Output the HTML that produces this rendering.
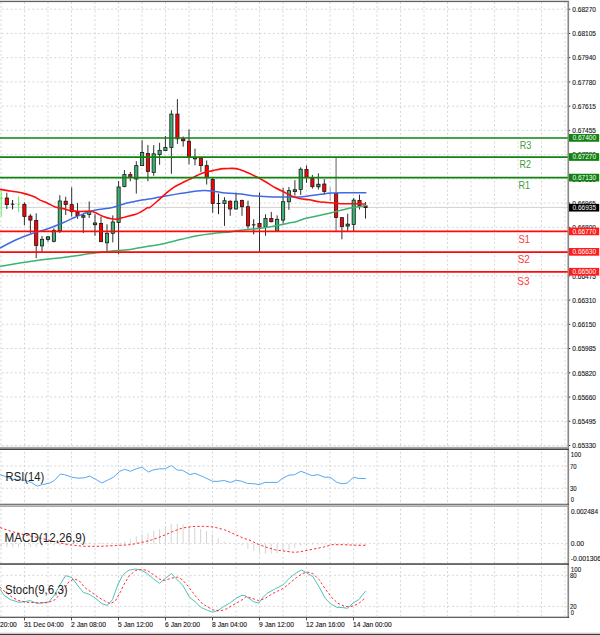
<!DOCTYPE html>
<html><head><meta charset="utf-8"><title>Chart</title>
<style>
html,body{margin:0;padding:0;background:#fff;}
body{width:600px;height:635px;overflow:hidden;font-family:"Liberation Sans", sans-serif;}
svg{display:block;font-family:"Liberation Sans", sans-serif;}
</style></head><body>
<svg width="600" height="635" viewBox="0 0 600 635">
<rect width="600" height="635" fill="#fff"/>
<path d="M1.00 0V447M24.50 0V447M48.00 0V447M71.50 0V447M95.00 0V447M118.50 0V447M142.00 0V447M165.50 0V447M189.00 0V447M212.50 0V447M236.00 0V447M259.50 0V447M283.00 0V447M306.50 0V447M330.00 0V447M353.50 0V447M377.00 0V447M400.50 0V447M424.00 0V447M447.50 0V447M471.00 0V447M494.50 0V447M518.00 0V447M541.50 0V447M565.00 0V447M0 9.20H568.3M0 33.44H568.3M0 57.68H568.3M0 81.92H568.3M0 106.16H568.3M0 130.40H568.3M0 154.64H568.3M0 178.88H568.3M0 203.12H568.3M0 227.36H568.3M0 251.60H568.3M0 275.84H568.3M0 300.08H568.3M0 324.32H568.3M0 348.56H568.3M0 372.80H568.3M0 397.04H568.3M0 421.28H568.3M0 445.52H568.3" stroke="#d3d3d3" stroke-width="0.9" stroke-dasharray="2 2.37" stroke-dashoffset="-1.75" fill="none"/>
<path d="M1.00 450V504M24.50 450V504M48.00 450V504M71.50 450V504M95.00 450V504M118.50 450V504M142.00 450V504M165.50 450V504M189.00 450V504M212.50 450V504M236.00 450V504M259.50 450V504M283.00 450V504M306.50 450V504M330.00 450V504M353.50 450V504M377.00 450V504M400.50 450V504M424.00 450V504M447.50 450V504M471.00 450V504M494.50 450V504M518.00 450V504M541.50 450V504M565.00 450V504M0 466.00H568.3M0 488.30H568.3" stroke="#d3d3d3" stroke-width="0.9" stroke-dasharray="2 2.37" stroke-dashoffset="-1.75" fill="none"/>
<path d="M1.00 507V563M24.50 507V563M48.00 507V563M71.50 507V563M95.00 507V563M118.50 507V563M142.00 507V563M165.50 507V563M189.00 507V563M212.50 507V563M236.00 507V563M259.50 507V563M283.00 507V563M306.50 507V563M330.00 507V563M353.50 507V563M377.00 507V563M400.50 507V563M424.00 507V563M447.50 507V563M471.00 507V563M494.50 507V563M518.00 507V563M541.50 507V563M565.00 507V563M0 543.60H568.3" stroke="#d3d3d3" stroke-width="0.9" stroke-dasharray="2 2.37" stroke-dashoffset="-1.75" fill="none"/>
<path d="M1.00 565V616M24.50 565V616M48.00 565V616M71.50 565V616M95.00 565V616M118.50 565V616M142.00 565V616M165.50 565V616M189.00 565V616M212.50 565V616M236.00 565V616M259.50 565V616M283.00 565V616M306.50 565V616M330.00 565V616M353.50 565V616M377.00 565V616M400.50 565V616M424.00 565V616M447.50 565V616M471.00 565V616M494.50 565V616M518.00 565V616M541.50 565V616M565.00 565V616M0 575.30H568.3M0 606.30H568.3" stroke="#d3d3d3" stroke-width="0.9" stroke-dasharray="2 2.37" stroke-dashoffset="-1.75" fill="none"/>
<path d="M0 207.40H568.3" stroke="#d2d2d2" stroke-width="1" fill="none"/>
<g><path d="M1.2 191V216.6M0 198.1H2.8" stroke="#5aea5a" stroke-width="1"/><path d="M6.8 192.8V209" stroke="#1a1a1a" stroke-width="0.9"/><rect x="5.20" y="198.00" width="3.2" height="6.60" fill="#ff0000" stroke="#1a1a1a" stroke-width="0.8"/><path d="M12.6 200V209.4M10.799999999999999 204.2H14.4" stroke="#1a1a1a" stroke-width="1"/><path d="M18.6 196.5V212.2M17.1 204.2H20.1" stroke="#5fe85f" stroke-width="1"/><path d="M24.4 202.3V225.1" stroke="#1a1a1a" stroke-width="0.9"/><rect x="22.80" y="204.30" width="3.2" height="12.20" fill="#ff0000" stroke="#1a1a1a" stroke-width="0.8"/><path d="M30.4 214.1V233" stroke="#1a1a1a" stroke-width="0.9"/><rect x="28.80" y="216.10" width="3.2" height="4.00" fill="#ff0000" stroke="#1a1a1a" stroke-width="0.8"/><path d="M36.2 213.3V258.2" stroke="#1a1a1a" stroke-width="0.9"/><rect x="34.60" y="220.40" width="3.2" height="25.20" fill="#ff0000" stroke="#1a1a1a" stroke-width="0.8"/><path d="M42.0 236.1V251.6" stroke="#1a1a1a" stroke-width="0.9"/><rect x="40.40" y="239.30" width="3.2" height="6.60" fill="#3cb371" stroke="#1a1a1a" stroke-width="0.8"/><path d="M48.0 236V241.7" stroke="#1a1a1a" stroke-width="0.9"/><rect x="46.40" y="236.90" width="3.2" height="2.40" fill="#3cb371" stroke="#1a1a1a" stroke-width="0.95"/><path d="M53.9 228.3V242.4" stroke="#1a1a1a" stroke-width="0.9"/><rect x="52.30" y="230.30" width="3.2" height="11.00" fill="#3cb371" stroke="#1a1a1a" stroke-width="0.8"/><path d="M59.8 195.2V233" stroke="#1a1a1a" stroke-width="0.9"/><rect x="58.20" y="201.00" width="3.2" height="29.60" fill="#3cb371" stroke="#1a1a1a" stroke-width="0.8"/><path d="M65.7 196.8V214.9" stroke="#1a1a1a" stroke-width="0.9"/><rect x="64.10" y="201.20" width="3.2" height="3.40" fill="#ff0000" stroke="#1a1a1a" stroke-width="0.8"/><path d="M71.7 187.3V216.5" stroke="#1a1a1a" stroke-width="0.9"/><rect x="70.10" y="204.60" width="3.2" height="7.10" fill="#ff0000" stroke="#1a1a1a" stroke-width="0.8"/><path d="M77.5 203V218.8" stroke="#1a1a1a" stroke-width="0.9"/><rect x="75.90" y="212.20" width="3.2" height="3.50" fill="#ff0000" stroke="#1a1a1a" stroke-width="0.8"/><path d="M83.3 214.1V233" stroke="#1a1a1a" stroke-width="0.9"/><rect x="81.70" y="215.70" width="3.2" height="1.50" fill="#3cb371" stroke="#1a1a1a" stroke-width="0.95"/><path d="M89.2 201.5V218" stroke="#1a1a1a" stroke-width="0.9"/><rect x="87.60" y="211.30" width="3.2" height="3.10" fill="#3cb371" stroke="#1a1a1a" stroke-width="0.8"/><path d="M95.0 214.1V235.8" stroke="#1a1a1a" stroke-width="0.9"/><rect x="93.40" y="223.00" width="3.2" height="1.60" fill="#3cb371" stroke="#1a1a1a" stroke-width="0.95"/><path d="M101.0 216.5V241.7" stroke="#1a1a1a" stroke-width="0.9"/><rect x="99.40" y="223.50" width="3.2" height="18.20" fill="#ff0000" stroke="#1a1a1a" stroke-width="0.8"/><path d="M107.0 224.3V251.9" stroke="#1a1a1a" stroke-width="0.9"/><rect x="105.40" y="233.30" width="3.2" height="9.50" fill="#3cb371" stroke="#1a1a1a" stroke-width="0.8"/><path d="M112.8 215.4V242.4" stroke="#1a1a1a" stroke-width="0.9"/><rect x="111.20" y="222.00" width="3.2" height="11.30" fill="#3cb371" stroke="#1a1a1a" stroke-width="0.8"/><path d="M118.6 181V254.3" stroke="#1a1a1a" stroke-width="0.9"/><rect x="117.00" y="187.00" width="3.2" height="35.40" fill="#3cb371" stroke="#1a1a1a" stroke-width="0.8"/><path d="M124.4 170V187.3" stroke="#1a1a1a" stroke-width="0.9"/><rect x="122.80" y="174.60" width="3.2" height="11.80" fill="#3cb371" stroke="#1a1a1a" stroke-width="0.8"/><path d="M130.3 171.9V181.3" stroke="#1a1a1a" stroke-width="0.9"/><rect x="128.70" y="174.60" width="3.2" height="2.80" fill="#ff0000" stroke="#1a1a1a" stroke-width="0.8"/><path d="M136.3 161.2V193.6" stroke="#1a1a1a" stroke-width="0.9"/><rect x="134.70" y="165.60" width="3.2" height="13.40" fill="#3cb371" stroke="#1a1a1a" stroke-width="0.8"/><path d="M142.1 140.1V165.6" stroke="#1a1a1a" stroke-width="0.9"/><rect x="140.50" y="152.50" width="3.2" height="13.10" fill="#3cb371" stroke="#1a1a1a" stroke-width="0.8"/><path d="M147.9 145.1V181.3" stroke="#1a1a1a" stroke-width="0.9"/><rect x="146.30" y="153.50" width="3.2" height="17.90" fill="#ff0000" stroke="#1a1a1a" stroke-width="0.8"/><path d="M153.7 145.1V175.8" stroke="#1a1a1a" stroke-width="0.9"/><rect x="152.10" y="153.80" width="3.2" height="18.60" fill="#3cb371" stroke="#1a1a1a" stroke-width="0.8"/><path d="M159.6 142.8V164.8" stroke="#1a1a1a" stroke-width="0.9"/><rect x="158.00" y="150.30" width="3.2" height="4.30" fill="#3cb371" stroke="#1a1a1a" stroke-width="0.8"/><path d="M165.4 136V150.6" stroke="#1a1a1a" stroke-width="0.9"/><rect x="163.80" y="147.50" width="3.2" height="3.10" fill="#3cb371" stroke="#1a1a1a" stroke-width="0.8"/><path d="M171.4 110.2V173.8" stroke="#1a1a1a" stroke-width="0.9"/><rect x="169.80" y="114.10" width="3.2" height="33.40" fill="#3cb371" stroke="#1a1a1a" stroke-width="0.8"/><path d="M177.4 99.1V143.9" stroke="#1a1a1a" stroke-width="0.9"/><rect x="175.80" y="114.10" width="3.2" height="24.70" fill="#ff0000" stroke="#1a1a1a" stroke-width="0.8"/><path d="M183.2 136.5V146.7" stroke="#1a1a1a" stroke-width="0.9"/><rect x="181.60" y="138.80" width="3.2" height="1.90" fill="#ff0000" stroke="#1a1a1a" stroke-width="0.95"/><path d="M189.0 129.4V164.3" stroke="#1a1a1a" stroke-width="0.9"/><rect x="187.40" y="141.20" width="3.2" height="15.70" fill="#ff0000" stroke="#1a1a1a" stroke-width="0.8"/><path d="M195.0 148.6V165.3" stroke="#1a1a1a" stroke-width="0.9"/><rect x="193.40" y="157.40" width="3.2" height="1.40" fill="#3cb371" stroke="#1a1a1a" stroke-width="0.95"/><path d="M200.9 156.9V171.9" stroke="#1a1a1a" stroke-width="0.9"/><rect x="199.30" y="158.00" width="3.2" height="7.60" fill="#ff0000" stroke="#1a1a1a" stroke-width="0.8"/><path d="M206.7 160.4V184.5" stroke="#1a1a1a" stroke-width="0.9"/><rect x="205.10" y="165.60" width="3.2" height="12.10" fill="#ff0000" stroke="#1a1a1a" stroke-width="0.8"/><path d="M212.7 177.1V212.8" stroke="#1a1a1a" stroke-width="0.9"/><rect x="211.10" y="179.40" width="3.2" height="24.00" fill="#ff0000" stroke="#1a1a1a" stroke-width="0.8"/><path d="M218.5 193.6V214.1M216.7 203.5H220.3" stroke="#1a1a1a" stroke-width="1"/><path d="M224.5 197.2V225.9" stroke="#1a1a1a" stroke-width="0.9"/><rect x="222.90" y="200.70" width="3.2" height="2.80" fill="#3cb371" stroke="#1a1a1a" stroke-width="0.8"/><path d="M230.2 200.4V215.8" stroke="#1a1a1a" stroke-width="0.9"/><rect x="228.60" y="201.20" width="3.2" height="7.80" fill="#ff0000" stroke="#1a1a1a" stroke-width="0.8"/><path d="M236.0 192.5V209.5" stroke="#1a1a1a" stroke-width="0.9"/><rect x="234.40" y="201.20" width="3.2" height="7.80" fill="#3cb371" stroke="#1a1a1a" stroke-width="0.8"/><path d="M242.0 199.6V215.8" stroke="#1a1a1a" stroke-width="0.9"/><rect x="240.40" y="200.40" width="3.2" height="6.30" fill="#ff0000" stroke="#1a1a1a" stroke-width="0.8"/><path d="M248.0 200.7V228.7" stroke="#1a1a1a" stroke-width="0.9"/><rect x="246.40" y="206.70" width="3.2" height="19.20" fill="#ff0000" stroke="#1a1a1a" stroke-width="0.8"/><path d="M253.7 219.3V234.3M251.89999999999998 224.8H255.5" stroke="#1a1a1a" stroke-width="1"/><path d="M259.5 192.5V253" stroke="#1a1a1a" stroke-width="0.9"/><rect x="257.90" y="223.50" width="3.2" height="3.70" fill="#ff0000" stroke="#1a1a1a" stroke-width="0.8"/><path d="M265.5 214.3V235.8" stroke="#1a1a1a" stroke-width="0.9"/><rect x="263.90" y="218.50" width="3.2" height="8.70" fill="#3cb371" stroke="#1a1a1a" stroke-width="0.8"/><path d="M271.3 211.9V222.4" stroke="#1a1a1a" stroke-width="0.9"/><rect x="269.70" y="218.50" width="3.2" height="3.20" fill="#ff0000" stroke="#1a1a1a" stroke-width="0.8"/><path d="M277.1 215.4V231.1" stroke="#1a1a1a" stroke-width="0.9"/><rect x="275.50" y="219.30" width="3.2" height="11.80" fill="#3cb371" stroke="#1a1a1a" stroke-width="0.8"/><path d="M283.1 187.8V223.7" stroke="#1a1a1a" stroke-width="0.9"/><rect x="281.50" y="201.70" width="3.2" height="18.40" fill="#3cb371" stroke="#1a1a1a" stroke-width="0.8"/><path d="M288.9 187V209.8" stroke="#1a1a1a" stroke-width="0.9"/><rect x="287.30" y="190.60" width="3.2" height="11.10" fill="#3cb371" stroke="#1a1a1a" stroke-width="0.8"/><path d="M294.9 180.2V195.7" stroke="#1a1a1a" stroke-width="0.9"/><rect x="293.30" y="189.80" width="3.2" height="1.60" fill="#3cb371" stroke="#1a1a1a" stroke-width="0.95"/><path d="M300.7 167.3V194.9" stroke="#1a1a1a" stroke-width="0.9"/><rect x="299.10" y="169.20" width="3.2" height="20.20" fill="#3cb371" stroke="#1a1a1a" stroke-width="0.8"/><path d="M306.5 165.4V182.8" stroke="#1a1a1a" stroke-width="0.9"/><rect x="304.90" y="169.40" width="3.2" height="7.80" fill="#ff0000" stroke="#1a1a1a" stroke-width="0.8"/><path d="M312.4 174.9V188.6" stroke="#1a1a1a" stroke-width="0.9"/><rect x="310.80" y="178.50" width="3.2" height="8.20" fill="#ff0000" stroke="#1a1a1a" stroke-width="0.8"/><path d="M318.4 173.3V189.5" stroke="#1a1a1a" stroke-width="0.9"/><rect x="316.80" y="184.30" width="3.2" height="2.40" fill="#3cb371" stroke="#1a1a1a" stroke-width="0.95"/><path d="M324.3 179.1V194.6" stroke="#1a1a1a" stroke-width="0.9"/><rect x="322.70" y="184.00" width="3.2" height="7.40" fill="#ff0000" stroke="#1a1a1a" stroke-width="0.8"/><path d="M330.2 187V200.9" stroke="#9c9c9c" stroke-width="0.9"/><path d="M336.1 158V231.3" stroke="#9a9a9a" stroke-width="1.6"/><rect x="334.50" y="193.50" width="3.2" height="23.90" fill="#ff0000" stroke="#1a1a1a" stroke-width="0.8"/><path d="M341.9 217.5V239.3" stroke="#1a1a1a" stroke-width="0.9"/><rect x="340.30" y="217.60" width="3.2" height="9.00" fill="#ff0000" stroke="#1a1a1a" stroke-width="0.8"/><path d="M347.7 213.8V231.3" stroke="#1a1a1a" stroke-width="0.9"/><rect x="346.10" y="224.20" width="3.2" height="1.80" fill="#3cb371" stroke="#1a1a1a" stroke-width="0.95"/><path d="M353.7 198V232" stroke="#1a1a1a" stroke-width="0.9"/><rect x="352.10" y="200.10" width="3.2" height="24.40" fill="#3cb371" stroke="#1a1a1a" stroke-width="0.8"/><path d="M359.5 194.7V209.5" stroke="#1a1a1a" stroke-width="0.9"/><rect x="357.90" y="200.40" width="3.2" height="5.20" fill="#ff0000" stroke="#1a1a1a" stroke-width="0.8"/><path d="M365.5 202V218.6" stroke="#1a1a1a" stroke-width="0.9"/><rect x="363.90" y="206.00" width="3.2" height="1.50" fill="#ff0000" stroke="#1a1a1a" stroke-width="0.95"/></g>
<path d="M0.00 266.40C5.04 265.58 21.42 262.74 31.50 261.30C41.58 259.86 55.24 258.38 63.00 257.40C70.76 256.42 75.57 255.82 80.00 255.20C84.43 254.58 86.46 254.06 90.70 253.50C94.94 252.94 102.93 252.15 106.50 251.70C110.07 251.25 110.49 250.92 113.00 250.70C115.51 250.48 119.48 250.51 122.20 250.30C124.92 250.09 127.47 249.77 130.00 249.40C132.53 249.03 134.80 248.53 138.00 248.00C141.20 247.47 146.82 246.61 150.00 246.10C153.18 245.59 155.39 245.26 157.90 244.80C160.41 244.34 161.92 244.08 165.70 243.20C169.48 242.32 176.46 240.48 181.50 239.30C186.54 238.12 192.16 236.73 197.20 235.80C202.24 234.87 207.75 234.12 213.00 233.50C218.25 232.88 225.57 232.41 230.00 231.90C234.43 231.39 236.46 230.81 240.70 230.30C244.94 229.79 251.46 229.32 256.50 228.70C261.54 228.08 267.16 227.28 272.20 226.40C277.24 225.52 284.21 223.95 288.00 223.20C291.79 222.45 293.18 222.45 295.90 221.70C298.62 220.95 301.83 219.36 305.00 218.50C308.17 217.64 311.46 217.23 315.70 216.30C319.94 215.37 326.46 213.92 331.50 212.70C336.54 211.48 343.42 209.58 347.20 208.70C350.98 207.82 352.17 207.70 355.10 207.20C358.03 206.70 363.84 205.86 365.50 205.60" stroke="#3cb371" stroke-width="1.5" fill="none" stroke-linejoin="round" stroke-linecap="round"/>
<path d="M0.00 248.00C2.51 246.72 10.66 242.27 15.70 240.00C20.74 237.73 26.46 235.56 31.50 233.80C36.54 232.04 42.16 230.76 47.20 229.00C52.24 227.24 58.55 224.69 63.00 222.80C67.45 220.91 71.82 218.59 75.00 217.20C78.18 215.81 80.39 215.04 82.90 214.10C85.41 213.16 88.19 212.05 90.70 211.30C93.21 210.55 95.32 209.96 98.60 209.40C101.88 208.84 107.92 208.44 111.20 207.80C114.48 207.16 116.57 206.15 119.10 205.40C121.63 204.65 123.98 203.85 127.00 203.10C130.02 202.35 134.98 201.29 138.00 200.70C141.02 200.11 143.18 199.83 145.90 199.40C148.62 198.97 151.83 198.54 155.00 198.00C158.17 197.46 161.46 196.75 165.70 196.00C169.94 195.25 176.46 194.12 181.50 193.30C186.54 192.48 193.42 191.35 197.20 190.90C200.98 190.45 202.57 190.44 205.10 190.50C207.63 190.56 210.47 191.00 213.00 191.30C215.53 191.60 218.18 192.08 220.90 192.40C223.62 192.72 226.83 193.03 230.00 193.30C233.17 193.57 236.46 193.67 240.70 194.10C244.94 194.53 251.46 195.55 256.50 196.00C261.54 196.45 267.16 196.76 272.20 196.90C277.24 197.04 283.55 196.90 288.00 196.90C292.45 196.90 296.58 197.08 300.00 196.90C303.42 196.72 306.12 196.22 309.40 195.80C312.68 195.38 316.96 194.75 320.50 194.30C324.04 193.85 327.23 193.26 331.50 193.00C335.77 192.74 341.71 192.75 347.20 192.70C352.69 192.65 362.82 192.70 365.80 192.70" stroke="#4169e1" stroke-width="1.5" fill="none" stroke-linejoin="round" stroke-linecap="round"/>
<path d="M0.00 189.40C1.26 189.59 5.39 190.22 7.90 190.60C10.41 190.98 13.19 191.35 15.70 191.80C18.21 192.25 21.07 192.78 23.60 193.40C26.13 194.02 29.61 195.08 31.50 195.70C33.39 196.32 34.04 196.60 35.40 197.30C36.76 198.00 38.11 199.19 40.00 200.10C41.89 201.01 44.78 201.90 47.20 203.00C49.62 204.10 52.57 206.10 55.10 207.00C57.63 207.90 60.47 208.02 63.00 208.60C65.53 209.18 68.18 210.14 70.90 210.60C73.62 211.06 76.83 211.39 80.00 211.50C83.17 211.61 88.22 211.09 90.70 211.30C93.18 211.51 93.48 211.97 95.50 212.80C97.52 213.63 100.79 215.54 103.30 216.50C105.81 217.46 108.93 218.38 111.20 218.80C113.47 219.22 115.23 219.40 117.50 219.10C119.77 218.80 122.63 217.62 125.40 216.90C128.17 216.18 132.29 215.43 134.80 214.60C137.31 213.77 139.08 212.79 141.10 211.70C143.12 210.61 145.98 208.50 147.40 207.80C148.82 207.10 148.32 208.44 150.00 207.30C151.68 206.16 155.39 202.89 157.90 200.70C160.41 198.51 163.19 195.74 165.70 193.60C168.21 191.46 171.07 188.96 173.60 187.30C176.13 185.64 178.97 184.46 181.50 183.20C184.03 181.94 186.89 180.63 189.40 179.40C191.91 178.17 194.94 176.57 197.20 175.50C199.46 174.43 200.97 173.48 203.50 172.70C206.03 171.92 210.22 171.21 213.00 170.60C215.78 169.99 218.98 169.22 220.90 168.90C222.82 168.58 222.58 168.65 225.00 168.60C227.42 168.55 232.72 168.10 236.00 168.60C239.28 169.10 242.22 170.39 245.50 171.70C248.78 173.01 253.24 175.15 256.50 176.80C259.76 178.45 262.88 180.24 265.90 182.00C268.92 183.76 272.38 186.12 275.40 187.80C278.42 189.48 282.03 191.11 284.80 192.50C287.57 193.89 290.17 195.49 292.70 196.50C295.23 197.51 297.93 198.27 300.60 198.80C303.27 199.33 306.47 199.34 309.40 199.80C312.33 200.26 315.36 201.22 318.90 201.70C322.44 202.18 327.98 202.48 331.50 202.80C335.02 203.12 337.38 203.56 340.90 203.70C344.42 203.84 349.56 203.65 353.50 203.70C357.44 203.75 363.58 203.95 365.50 204.00" stroke="#ff0d0d" stroke-width="1.6" fill="none" stroke-linejoin="round" stroke-linecap="round"/>
<g fill="none"><path d="M0 138.00H568.3" stroke="#108210" stroke-width="1.7"/><path d="M0 157.20H568.3" stroke="#108210" stroke-width="1.7"/><path d="M0 177.70H568.3" stroke="#108210" stroke-width="1.7"/><path d="M0 231.35H568.3" stroke="#ff0a0a" stroke-width="1.7"/><path d="M0 252.05H568.3" stroke="#ff0a0a" stroke-width="1.7"/><path d="M0 271.90H568.3" stroke="#ff0a0a" stroke-width="1.7"/></g>
<text x="519.8" y="149.2" font-size="10.2" fill="#3f9a3f" textLength="11.6" lengthAdjust="spacingAndGlyphs">R3</text>
<text x="519.5" y="168.3" font-size="10.2" fill="#3f9a3f" textLength="11.5" lengthAdjust="spacingAndGlyphs">R2</text>
<text x="518.5" y="189.2" font-size="10.2" fill="#3f9a3f" textLength="11.5" lengthAdjust="spacingAndGlyphs">R1</text>
<text x="518.5" y="242.8" font-size="10.2" fill="#ff3a3a" textLength="11.5" lengthAdjust="spacingAndGlyphs">S1</text>
<text x="517.7" y="263.3" font-size="10.2" fill="#ff3a3a" textLength="12.2" lengthAdjust="spacingAndGlyphs">S2</text>
<text x="517.3" y="285.0" font-size="10.2" fill="#ff3a3a" textLength="12.2" lengthAdjust="spacingAndGlyphs">S3</text>
<rect x="0" y="0.75" width="569.0999999999999" height="1.35" fill="#636363"/>
<rect x="567.4499999999999" y="1" width="1.65" height="616.7" fill="#888"/>
<rect x="0" y="446.85" width="568.3" height="1.15" fill="#a6a6a6"/>
<rect x="0" y="448" width="568.3" height="1" fill="#a8a8a8"/>
<rect x="0" y="448.8" width="568.8" height="1.1" fill="#303030"/>
<rect x="0" y="503.8" width="568.8" height="0.95" fill="#2c2c2c"/>
<rect x="0" y="504.75" width="568.3" height="1.25" fill="#c0c0c0"/>
<rect x="0" y="506.0" width="568.3" height="0.75" fill="#8e8e8e"/>
<rect x="0" y="563.0" width="568.8" height="0.7" fill="#6c6c6c"/>
<rect x="0" y="563.7" width="568.8" height="1.0" fill="#2a2a2a"/>
<rect x="0" y="616.75" width="569.0999999999999" height="1.0" fill="#2c2c2c"/>
<rect x="0" y="632.5" width="600" height="0.8" fill="#d8d8d8"/>
<rect x="0" y="633.8" width="600" height="1.2" fill="#3a3a3a"/>
<g font-size="7.9" fill="#161616" stroke="#161616" stroke-width="0.12"><path d="M569.0 9.20h1.2" stroke="#222" stroke-width="1"/><text x="572.3" y="12.00" textLength="23.7" lengthAdjust="spacingAndGlyphs">0.68270</text><path d="M569.0 33.44h1.2" stroke="#222" stroke-width="1"/><text x="572.3" y="36.24" textLength="23.7" lengthAdjust="spacingAndGlyphs">0.68105</text><path d="M569.0 57.68h1.2" stroke="#222" stroke-width="1"/><text x="572.3" y="60.48" textLength="23.7" lengthAdjust="spacingAndGlyphs">0.67940</text><path d="M569.0 81.92h1.2" stroke="#222" stroke-width="1"/><text x="572.3" y="84.72" textLength="23.7" lengthAdjust="spacingAndGlyphs">0.67780</text><path d="M569.0 106.16h1.2" stroke="#222" stroke-width="1"/><text x="572.3" y="108.96" textLength="23.7" lengthAdjust="spacingAndGlyphs">0.67615</text><path d="M569.0 130.40h1.2" stroke="#222" stroke-width="1"/><text x="572.3" y="133.20" textLength="23.7" lengthAdjust="spacingAndGlyphs">0.67455</text><path d="M569.0 154.64h1.2" stroke="#222" stroke-width="1"/><text x="572.3" y="157.44" textLength="23.7" lengthAdjust="spacingAndGlyphs">0.67290</text><path d="M569.0 178.88h1.2" stroke="#222" stroke-width="1"/><text x="572.3" y="181.68" textLength="23.7" lengthAdjust="spacingAndGlyphs">0.67130</text><path d="M569.0 203.12h1.2" stroke="#222" stroke-width="1"/><text x="572.3" y="205.92" textLength="23.7" lengthAdjust="spacingAndGlyphs">0.66965</text><path d="M569.0 227.36h1.2" stroke="#222" stroke-width="1"/><text x="572.3" y="230.16" textLength="23.7" lengthAdjust="spacingAndGlyphs">0.66800</text><path d="M569.0 251.60h1.2" stroke="#222" stroke-width="1"/><text x="572.3" y="254.40" textLength="23.7" lengthAdjust="spacingAndGlyphs">0.66640</text><path d="M569.0 275.84h1.2" stroke="#222" stroke-width="1"/><text x="572.3" y="278.64" textLength="23.7" lengthAdjust="spacingAndGlyphs">0.66475</text><path d="M569.0 300.08h1.2" stroke="#222" stroke-width="1"/><text x="572.3" y="302.88" textLength="23.7" lengthAdjust="spacingAndGlyphs">0.66310</text><path d="M569.0 324.32h1.2" stroke="#222" stroke-width="1"/><text x="572.3" y="327.12" textLength="23.7" lengthAdjust="spacingAndGlyphs">0.66150</text><path d="M569.0 348.56h1.2" stroke="#222" stroke-width="1"/><text x="572.3" y="351.36" textLength="23.7" lengthAdjust="spacingAndGlyphs">0.65985</text><path d="M569.0 372.80h1.2" stroke="#222" stroke-width="1"/><text x="572.3" y="375.60" textLength="23.7" lengthAdjust="spacingAndGlyphs">0.65820</text><path d="M569.0 397.04h1.2" stroke="#222" stroke-width="1"/><text x="572.3" y="399.84" textLength="23.7" lengthAdjust="spacingAndGlyphs">0.65660</text><path d="M569.0 421.28h1.2" stroke="#222" stroke-width="1"/><text x="572.3" y="424.08" textLength="23.7" lengthAdjust="spacingAndGlyphs">0.65495</text><path d="M569.0 445.52h1.2" stroke="#222" stroke-width="1"/><text x="572.3" y="448.32" textLength="23.7" lengthAdjust="spacingAndGlyphs">0.65330</text></g>
<g font-size="7.9"><rect x="569.0" y="134.05" width="30.20000000000009" height="7.7" fill="#108210"/><text x="572.4" y="140.25" textLength="23.8" lengthAdjust="spacingAndGlyphs" fill="#fff">0.67400</text><rect x="569.0" y="153.15" width="30.20000000000009" height="7.7" fill="#108210"/><text x="572.4" y="159.35" textLength="23.8" lengthAdjust="spacingAndGlyphs" fill="#fff">0.67270</text><rect x="569.0" y="173.75" width="30.20000000000009" height="7.7" fill="#108210"/><text x="572.4" y="179.95" textLength="23.8" lengthAdjust="spacingAndGlyphs" fill="#fff">0.67130</text><rect x="569.0" y="227.55" width="30.20000000000009" height="7.7" fill="#ff1c1c"/><text x="572.4" y="233.75" textLength="23.8" lengthAdjust="spacingAndGlyphs" fill="#fff">0.66770</text><rect x="569.0" y="248.00" width="30.20000000000009" height="7.7" fill="#ff1c1c"/><text x="572.4" y="254.20" textLength="23.8" lengthAdjust="spacingAndGlyphs" fill="#fff">0.66630</text><rect x="569.0" y="267.90" width="30.20000000000009" height="7.7" fill="#ff1c1c"/><text x="572.4" y="274.10" textLength="23.8" lengthAdjust="spacingAndGlyphs" fill="#fff">0.66500</text><rect x="569.0" y="203.85" width="30.20000000000009" height="7.7" fill="#000"/><text x="572.4" y="210.05" textLength="23.8" lengthAdjust="spacingAndGlyphs" fill="#fff">0.66935</text></g>
<path d="M0.0 474.7 L4.2 476.1 L12.5 479.3 L25.0 480.3 L31.3 482.4 L37.1 486.1 L42.7 484.5 L50.0 483.0 L54.6 480.3 L60.4 474.0 L64.6 474.7 L71.9 477.2 L78.1 478.2 L84.4 477.8 L89.6 476.1 L95.8 479.3 L101.7 483.0 L107.3 480.3 L113.5 477.2 L119.8 471.3 L124.6 469.3 L130.4 471.3 L136.3 468.8 L141.9 467.2 L148.5 472.0 L153.3 469.9 L159.6 468.8 L165.4 468.8 L171.3 465.5 L177.3 470.1 L182.5 470.3 L189.8 474.5 L195.0 473.4 L203.3 476.8 L212.7 481.3 L217.9 481.3 L224.2 480.5 L230.4 482.4 L236.3 480.3 L241.9 481.3 L247.3 483.4 L254.6 483.8 L259.2 484.7 L265.0 482.4 L277.5 482.4 L282.7 478.2 L289.0 475.1 L294.6 474.7 L300.8 471.3 L306.7 473.4 L311.9 475.7 L318.1 474.7 L324.4 477.2 L330.0 477.2 L336.9 482.4 L342.1 483.8 L347.3 483.0 L353.5 477.2 L358.8 478.4 L365.5 478.6" stroke="#55a8f3" stroke-width="1.0" fill="none" stroke-linejoin="round" stroke-linecap="round"/>
<g font-size="7.7" fill="#161616" stroke="#161616" stroke-width="0.12"><text x="570.8" y="457.05" textLength="10.3" lengthAdjust="spacingAndGlyphs">100</text><text x="569.9" y="468.75" textLength="6.7" lengthAdjust="spacingAndGlyphs">70</text><text x="569.9" y="490.85" textLength="6.7" lengthAdjust="spacingAndGlyphs">30</text><text x="570.8" y="501.85" textLength="3.2" lengthAdjust="spacingAndGlyphs">0</text></g>
<path d="M124.6 543.6V541.5M130.4 543.6V539.5M136.3 543.6V536.3M142.1 543.6V534.3M147.9 543.6V532.8M153.8 543.6V530.7M159.6 543.6V529.0M165.4 543.6V526.3M171.2 543.6V523.8M177.3 543.6V523.8M183.1 543.6V524.5M189.0 543.6V525.9M194.8 543.6V527.6M200.6 543.6V529.0M206.5 543.6V531.1M212.3 543.6V534.3M218.3 543.6V538.4M224.2 543.6V541.5M230.0 543.6V542.6M242.1 543.6V545.7M247.9 543.6V548.8M253.8 543.6V550.9M259.6 543.6V553.0M265.4 543.6V553.6M271.2 543.6V553.6M277.1 543.6V553.0M283.1 543.6V551.3M289.0 543.6V549.9M294.8 543.6V547.8M300.6 543.6V545.7M1.0 543.6V547.1M6.9 543.6V547.1M12.8 543.6V547.1M18.6 543.6V547.1M24.5 543.6V547.1M30.4 543.6V547.1M36.2 543.6V547.1M42.1 543.6V547.1M48.0 543.6V545.6M53.9 543.6V545.6M59.8 543.6V545.6M65.6 543.6V545.6M89.0 543.6V542.6M95.0 543.6V542.6M101.0 543.6V542.6M107.0 543.6V542.6M113.0 543.6V542.6M118.6 543.6V542.6M306.5 543.6V544.6M312.4 543.6V544.6M318.4 543.6V544.6M324.3 543.6V544.6M330.2 543.6V544.8M336.1 543.6V544.8M341.9 543.6V544.8M347.7 543.6V544.8M353.7 543.6V544.8M359.5 543.6V544.8M365.5 543.6V544.8" stroke="#cfcfcf" stroke-width="0.9" fill="none"/>
<path d="M0.0 527.6 L10.4 531.1 L25.0 535.0 L41.7 538.4 L58.3 542.6 L68.8 544.7 L83.3 546.3 L100.0 546.3 L116.7 545.5 L130.4 544.7 L140.8 542.6 L151.2 540.1 L161.7 536.3 L172.1 531.8 L182.5 528.0 L192.9 526.5 L203.3 526.3 L213.8 527.0 L224.2 529.7 L234.6 534.2 L245.0 538.8 L248.3 539.5 L256.7 543.6 L265.0 546.8 L275.4 549.9 L285.8 551.3 L295.2 552.4 L304.6 550.9 L312.9 549.2 L323.3 547.2 L331.7 544.7 L344.2 544.7 L356.7 545.3 L365.5 545.3" stroke="#ff2222" stroke-width="0.95" fill="none" stroke-linejoin="round" stroke-dasharray="2.4 2.1"/>
<g font-size="7.7" fill="#161616" stroke="#161616" stroke-width="0.12"><text x="571" y="513.65" textLength="27" lengthAdjust="spacingAndGlyphs">0.002484</text><text x="570.8" y="546.05" textLength="13.3" lengthAdjust="spacingAndGlyphs">0.00</text><text x="570.7" y="560.75" textLength="30.3" lengthAdjust="spacingAndGlyphs">-0.001306</text></g>
<path d="M0.0 589.2 L4.2 595.4 L10.4 599.6 L18.8 602.3 L25.0 601.7 L30.2 600.6 L36.5 603.3 L41.7 603.1 L49.0 601.7 L54.2 595.4 L60.4 584.0 L65.6 575.6 L71.9 577.7 L78.1 586.0 L83.3 592.3 L89.6 594.4 L95.8 598.5 L102.1 603.8 L107.3 605.4 L112.5 599.6 L117.7 585.0 L121.9 576.7 L124.2 573.5 L129.4 570.0 L135.6 569.0 L140.8 569.8 L147.1 573.5 L153.3 578.8 L159.6 583.3 L164.8 578.8 L171.5 573.5 L176.2 578.8 L182.5 585.0 L189.8 597.5 L195.0 601.7 L201.2 607.5 L207.5 610.4 L212.7 612.1 L217.9 610.6 L224.2 606.2 L230.4 602.7 L236.7 597.9 L241.9 595.4 L245.0 595.6 L248.3 597.9 L253.5 601.7 L258.8 603.1 L262.9 597.5 L267.1 593.3 L273.3 589.8 L282.7 585.0 L290.0 577.7 L296.2 572.9 L301.5 570.0 L306.7 572.9 L312.9 576.7 L319.2 587.1 L325.4 598.5 L330.6 603.8 L336.9 607.3 L342.1 607.5 L347.3 608.3 L353.5 602.7 L358.8 599.6 L365.5 591.2" stroke="#45c0b8" stroke-width="0.95" fill="none" stroke-linejoin="round" stroke-linecap="round"/>
<path d="M0.0 587.1 L3.1 590.2 L12.5 597.5 L18.8 600.6 L27.1 602.3 L37.5 602.7 L47.9 602.7 L55.2 599.6 L62.5 591.2 L68.8 581.9 L74.0 578.8 L79.2 580.8 L85.4 588.1 L91.7 592.3 L97.9 597.1 L104.2 600.6 L110.4 603.8 L115.6 600.6 L120.8 591.2 L124.2 584.0 L129.4 575.6 L135.6 570.4 L141.9 569.4 L147.1 570.4 L153.3 574.6 L159.6 579.2 L164.8 580.4 L171.0 578.3 L177.3 577.1 L182.5 579.8 L188.8 587.1 L195.0 595.4 L201.2 602.7 L207.5 606.9 L213.8 610.0 L220.0 611.0 L226.2 609.0 L232.5 605.4 L238.8 601.7 L243.0 599.3 L246.2 596.5 L252.5 598.5 L258.8 600.6 L265.0 598.5 L271.2 594.4 L277.5 591.2 L283.8 588.1 L290.0 582.9 L296.2 577.7 L302.5 573.5 L307.7 572.1 L312.9 573.5 L319.2 579.8 L325.4 589.2 L331.7 597.5 L337.9 603.3 L344.2 606.2 L349.4 606.9 L354.6 605.4 L359.8 602.7 L365.5 597.5" stroke="#ff2222" stroke-width="0.95" fill="none" stroke-linejoin="round" stroke-dasharray="2.4 2.1"/>
<g font-size="7.7" fill="#161616" stroke="#161616" stroke-width="0.12"><text x="570.8" y="572.45" textLength="10.3" lengthAdjust="spacingAndGlyphs">100</text><text x="569.9" y="578.15" textLength="6.7" lengthAdjust="spacingAndGlyphs">80</text><text x="569.9" y="608.95" textLength="6.7" lengthAdjust="spacingAndGlyphs">20</text><text x="570.8" y="614.75" textLength="3.2" lengthAdjust="spacingAndGlyphs">0</text></g>
<g font-size="12.2" fill="#222" lengthAdjust="spacingAndGlyphs"><text x="5.6" y="480.6" textLength="38.6" lengthAdjust="spacingAndGlyphs">RSI(14)</text><text x="4.4" y="542.4" textLength="81.3" lengthAdjust="spacingAndGlyphs">MACD(12,26,9)</text><text x="5" y="594.1" textLength="62.6" lengthAdjust="spacingAndGlyphs">Stoch(9,6,3)</text></g>
<g font-size="6.7" fill="#161616" stroke="#161616" stroke-width="0.12"><text x="-22.9" y="0" transform="translate(0,626.9) scale(1,1.13)">29 Dec 20:00</text><text x="24.1" y="0" transform="translate(0,626.9) scale(1,1.13)">31 Dec 04:00</text><text x="71.1" y="0" transform="translate(0,626.9) scale(1,1.13)">2 Jan 08:00</text><text x="118.1" y="0" transform="translate(0,626.9) scale(1,1.13)">5 Jan 12:00</text><text x="165.1" y="0" transform="translate(0,626.9) scale(1,1.13)">6 Jan 20:00</text><text x="212.1" y="0" transform="translate(0,626.9) scale(1,1.13)">8 Jan 04:00</text><text x="259.1" y="0" transform="translate(0,626.9) scale(1,1.13)">9 Jan 12:00</text><text x="306.1" y="0" transform="translate(0,626.9) scale(1,1.13)">12 Jan 16:00</text><text x="353.1" y="0" transform="translate(0,626.9) scale(1,1.13)">14 Jan 00:00</text></g>
<g stroke="#3a3a3a" stroke-width="0.9"><path d="M24.5 617.4V620.4"/><path d="M71.5 617.4V620.4"/><path d="M118.5 617.4V620.4"/><path d="M165.5 617.4V620.4"/><path d="M212.5 617.4V620.4"/><path d="M259.5 617.4V620.4"/><path d="M306.5 617.4V620.4"/><path d="M353.5 617.4V620.4"/></g>
</svg>
</body></html>
